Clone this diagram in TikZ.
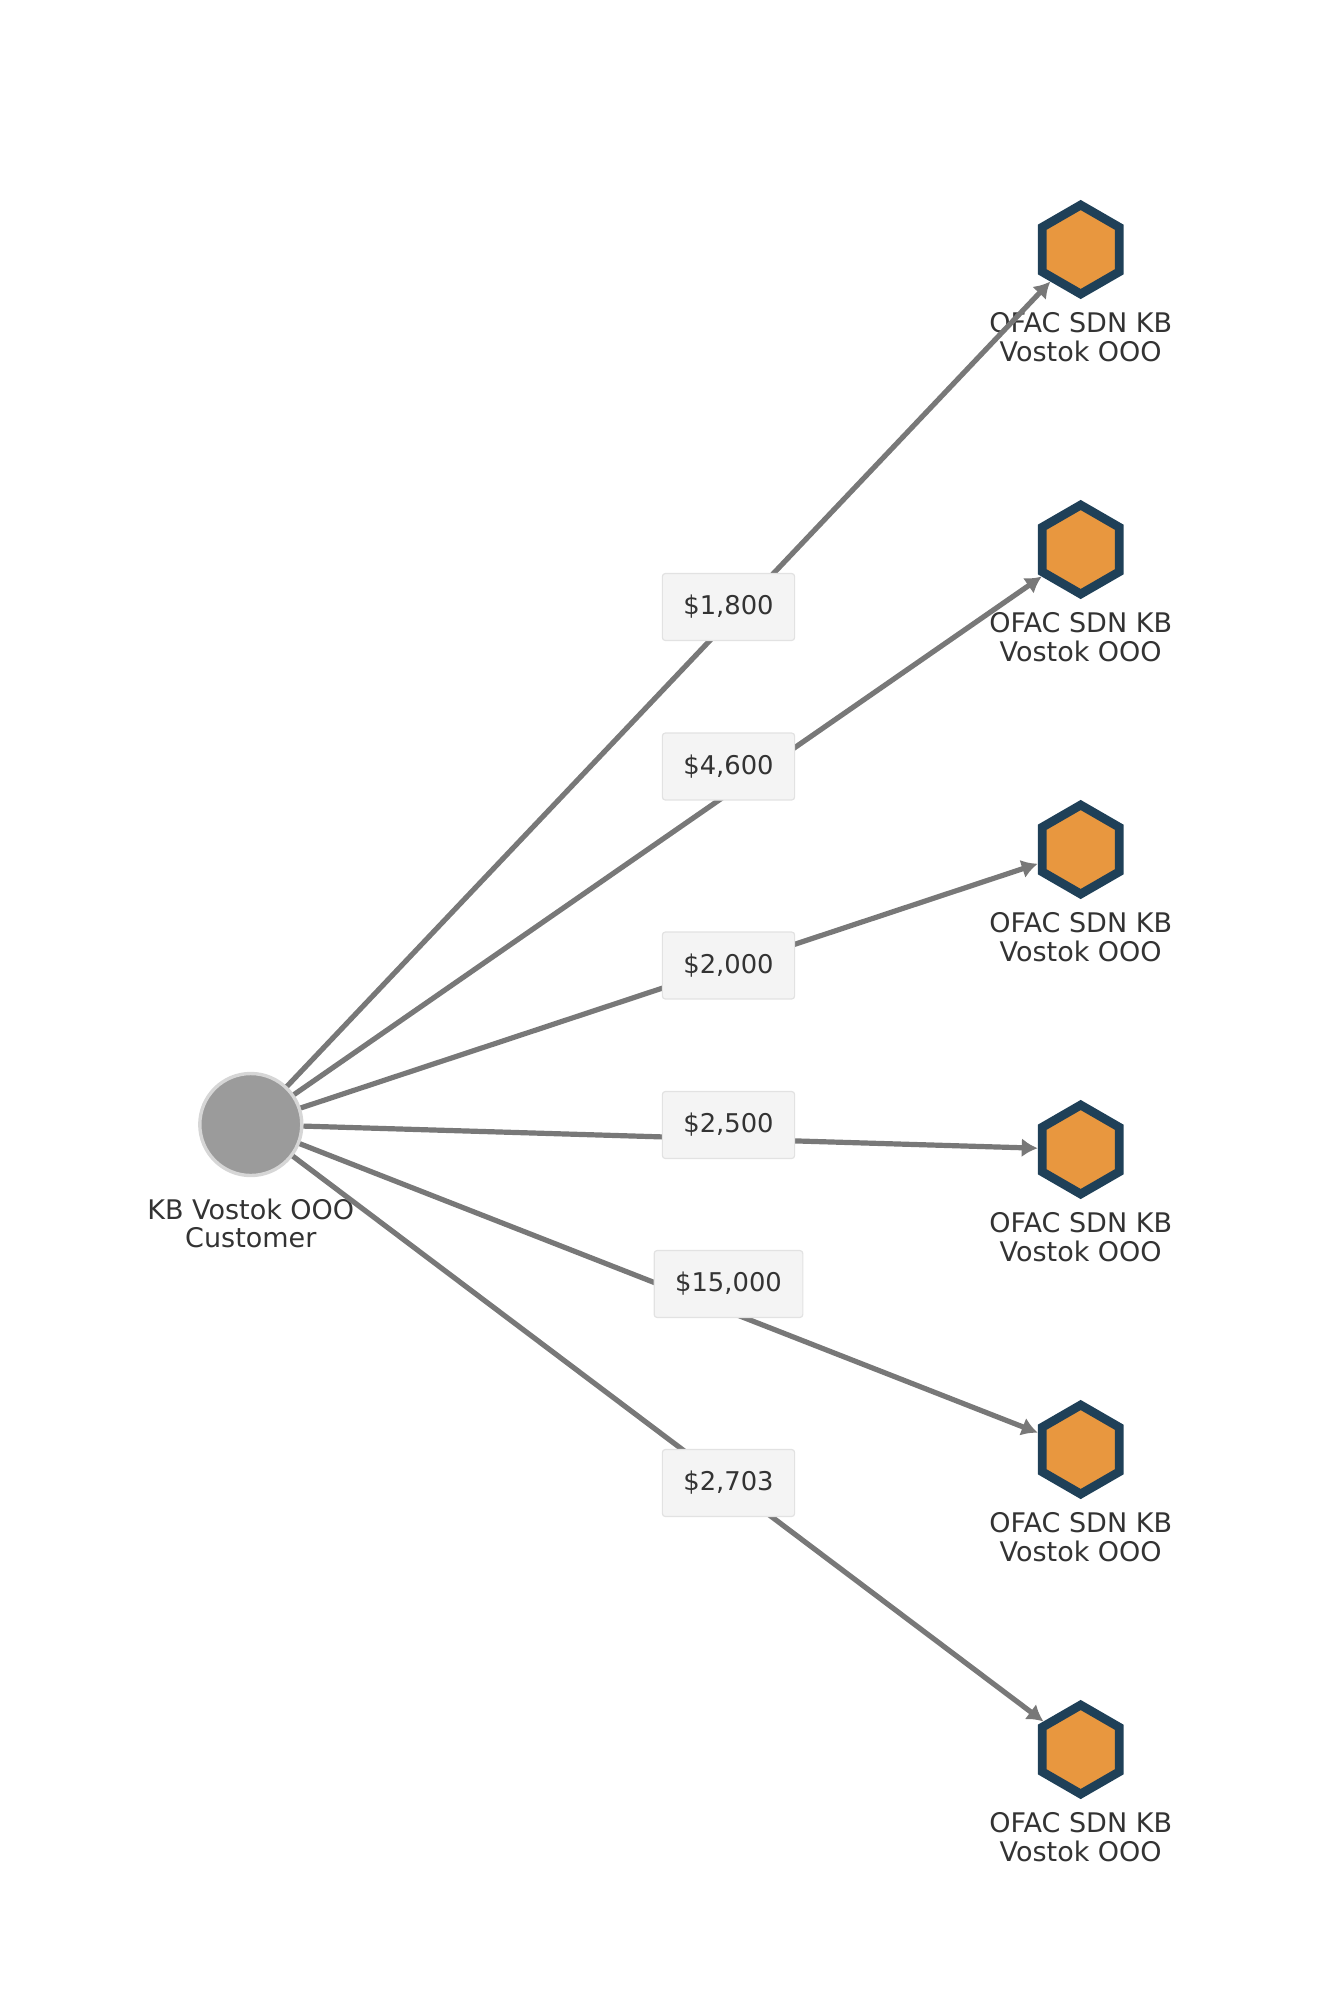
\documentclass[tikz,border=0pt]{standalone}
\usepackage{fontspec}
\setmainfont{DejaVu Sans}
\usepackage{tikz}
\usetikzlibrary{shapes.geometric,arrows.meta}
\definecolor{sdnfill}{HTML}{E8973F}
\definecolor{sdnedge}{HTML}{1F4058}
\definecolor{custfill}{HTML}{9B9B9B}
\definecolor{custedge}{HTML}{D6D6D6}
\definecolor{flowgray}{HTML}{787878}
\definecolor{boxfill}{HTML}{F4F4F4}
\definecolor{boxedge}{HTML}{E2E2E2}
\definecolor{txt}{HTML}{333333}
\tikzset{>={Latex[length=8pt,width=9.5pt]}}
\tikzset{
    sdn/.style={regular polygon,regular polygon sides=6,regular polygon rotate=30,
        minimum size=44.5pt,inner sep=0pt,fill=sdnfill,draw=sdnedge,line width=4.4pt},
    cust/.style={circle,minimum size=51pt,inner sep=0pt,fill=custfill,draw=custedge,line width=1.7pt},
    namelabel/.style={anchor=north,inner sep=0pt,align=center,text=txt,
        font=\fontsize{13.5pt}{14.2pt}\selectfont},
    amount/.style={rectangle,rounded corners=1.5pt,fill=boxfill,draw=boxedge,line width=0.6pt,
        inner xsep=10.5pt,inner ysep=0pt,minimum height=33.5pt,text=txt,
        font=\fontsize{12.9pt}{14.2pt}\selectfont},
    flow/.style={->,draw=flowgray,line width=2.6pt}
}

\begin{document}
\begin{tikzpicture}[x=0.5pt,y=-0.5pt]
    \useasboundingbox (0,0) rectangle (1331,1999);
    \node[cust] (cust) at (250.8,1124.5) {};
    \node[namelabel] (cust-l) at ([yshift=-36.8pt]cust.center) {KB Vostok OOO\\Customer};
    \foreach \i in {1,...,6} {
        \node[sdn] (h\i) at (1080.7,{249.5+300*(\i-1)}) {};
        \node[namelabel] (h\i-l) at ([yshift=-31.5pt]h\i.center) {OFAC SDN KB\\Vostok OOO};
    }
    \foreach \i/\amt/\ly in {1/{\$1,800}/607,2/{\$4,600}/766.5,3/{\$2,000}/965.5,
                             4/{\$2,500}/1125,5/{\$15,000}/1284,6/{\$2,703}/1483} {
        \draw[flow] (cust) -- (h\i);
        \node[amount] (a\i) at (728.5,\ly) {\amt};
    }
\end{tikzpicture}
\end{document}
